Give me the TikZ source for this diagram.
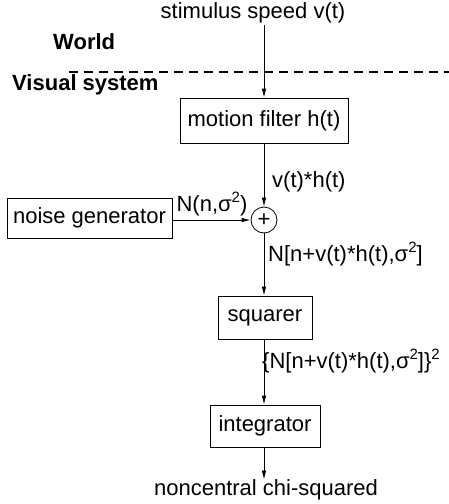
\documentclass[tikz,border=0pt]{standalone}
\usepackage{fontspec}
\setmainfont{Liberation Sans}
\usetikzlibrary{arrows.meta}
% raised exponent sized to the 22pt text
\newcommand{\sqr}{\raisebox{0.42em}{\fontsize{15}{15}\selectfont 2}}
\begin{document}
\begin{tikzpicture}[x=1pt,y=-1pt,
  every node/.style={font=\fontsize{22}{26}\selectfont, inner sep=0pt},
  block/.style={draw, line width=0.8pt, anchor=center},
  lbl/.style={anchor=west},
  head/.style={font=\fontsize{22}{26}\selectfont\bfseries, anchor=west},
  flow/.style={line width=0.8pt, -{Latex[length=9pt,width=4.5pt]}}]
\useasboundingbox (0,0) rectangle (449,504);

% domain boundary
\node[head] (world) at (53,42) {World};
\node[head] (vis) at (12,85) {Visual system};
\draw[line width=1.3pt, dash pattern=on 9pt off 6pt] (69,72) -- (449,72);

% processing chain
\node (stim) at (253,13) {stimulus speed v(t)};
\node[block, minimum width=168pt, minimum height=45pt] (filter) at (264,120.5) {motion filter h(t)};
\node[draw, circle, line width=0.8pt, minimum size=26pt] (sum) at (264,220) {\fontsize{22}{22}\selectfont\raisebox{-0.05em}{+}};
\node[block, minimum width=165pt, minimum height=40pt] (noise) at (89.5,218) {noise generator};
\node[block, minimum width=94pt, minimum height=43pt] (square) at (265,317.5) {squarer};
\node[block, minimum width=110pt, minimum height=42pt] (integ) at (265,426) {integrator};
\node (out) at (266,490) {noncentral chi-squared};

% signal labels
\node[lbl] (l1) at (272,182) {v(t)*h(t)};
\node (l2) at (212,204) {N(n,σ\sqr)};
\node[lbl] (l3) at (268,254) {N[n+v(t)*h(t),σ\sqr]};
\node[lbl] (l4) at (262,361) {\{N[n+v(t)*h(t),σ\sqr]\}\sqr};

% connectors
\draw[flow] (stim.south -| filter.north) ++(0,2) -- (filter.north);
\draw[flow] (filter.south) -- (sum.north);
\draw[flow] (noise.east |- sum.west) -- (sum.west);
\draw[flow] (sum.south) -- (sum.south |- square.north);
\draw[flow] (square.south -| sum.south) -- (sum.south |- integ.north);
\draw[flow] (integ.south -| sum.south) -- (out.north -| sum.south);
\end{tikzpicture}
\end{document}
